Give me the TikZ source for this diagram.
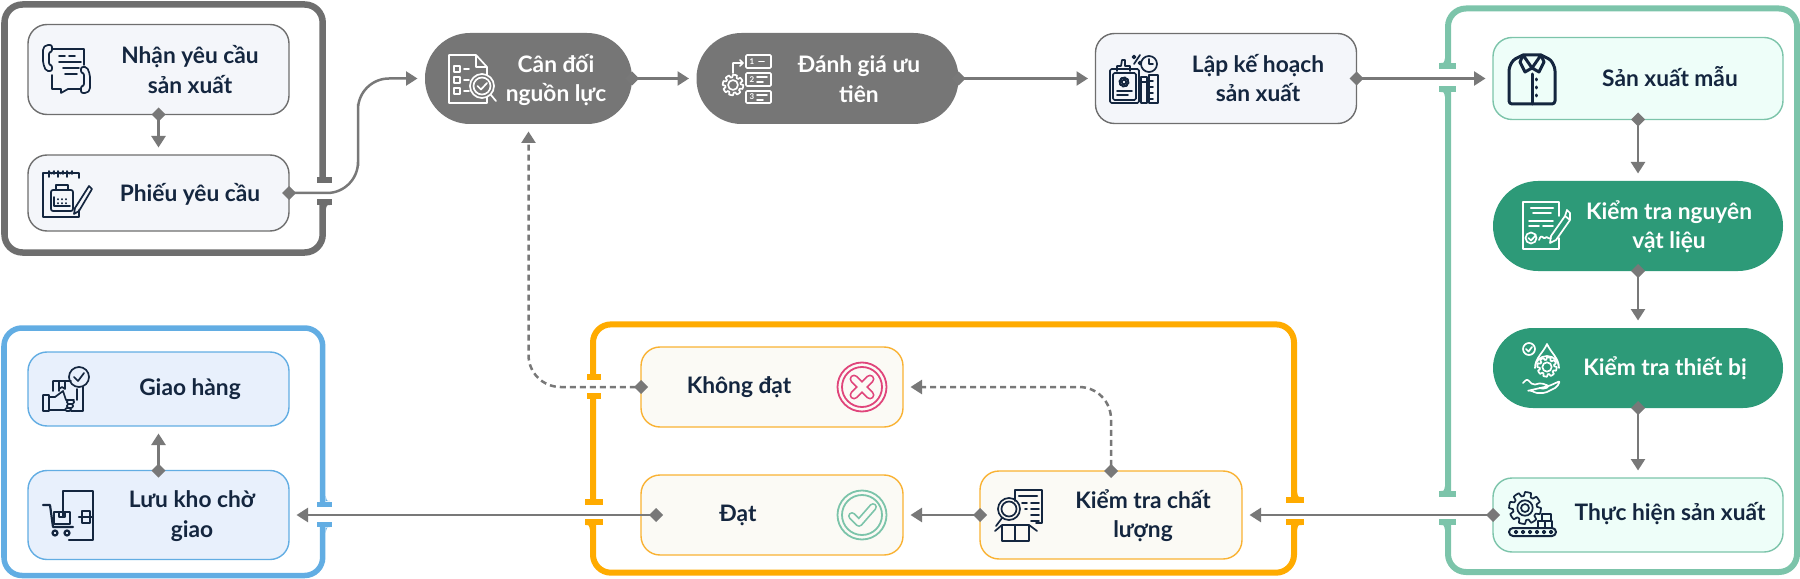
\documentclass[tikz,border=0pt]{standalone}
\usepackage{fontspec}
\setmainfont{Lato}
\usetikzlibrary{arrows.meta}
\definecolor{inkc}{HTML}{14263F}
\definecolor{flowc}{HTML}{787878}
\definecolor{greyf}{HTML}{F4F6FA}
\definecolor{greyl}{HTML}{6E6E6E}
\definecolor{pillg}{HTML}{767676}
\definecolor{mintf}{HTML}{EEFEF9}
\definecolor{mintl}{HTML}{7CC4AA}
\definecolor{pillm}{HTML}{2D9A78}
\definecolor{ambf}{HTML}{FBFAF5}
\definecolor{ambl}{HTML}{F9B233}
\definecolor{ambg}{HTML}{FFAB00}
\definecolor{bluef}{HTML}{E8F0FC}
\definecolor{bluel}{HTML}{62ADE3}
\definecolor{pinkc}{HTML}{E0457B}

\begin{document}
\begin{tikzpicture}[x=1bp,y=-1bp,
  card/.style={rectangle,inner sep=0bp,outer sep=0bp,rounded corners=19bp,line width=1.4bp},
  pill/.style={card,rounded corners=45bp,draw=none},
  word/.style={align=center,inner sep=0bp,text=inkc,font=\fontsize{22.8}{29.5}\selectfont\bfseries},
  flow/.style={draw=flowc,line width=2.5bp,{Kite[length=14bp,width=14bp,inset=7bp]}-{Triangle[length=11.5bp,width=14bp]},
    shorten <=-7bp,shorten >=7.5bp},
  back/.style={flow,dash pattern=on 6bp off 4bp,rounded corners=32bp},
  frame/.style={line width=6bp,rounded corners=18bp},
  icon/.style={line width=1.7bp,line join=round,line cap=round}]
\useasboundingbox (0,0) rectangle (1800,579);
% one gear drawn as a wave in polar form
\newcommand{\cog}[3]{\draw[shift={(#1,#2)}] plot[domain=0:360,samples=65]
  (\x:{#3+(sin(8*\x)>=0?1:-1)*#3*0.14}) -- cycle;
  \draw (#1,#2) circle ({#3*0.55});}
% fillet where a frame meets its end bar: colour, x, y, side, up or down
\newcommand{\flare}[5]{\fill[#1] ({#2+#4*3},{#3+#5*3}) -- ({#2+#4*7.5},{#3+#5*3})
  .. controls ({#2+#4*4},{#3+#5*3}) .. ({#2+#4*3},{#3+#5*8}) -- cycle;}
% icons, all in a 48 by 48 square
\newcommand{\iconphone}{
  \draw[rounded corners=2bp] (9,0)--(3,0)--(0,3)--(0,18)--(3,26)--(9,26)--(9,20)--(6,20)--(6,7)--(9,7)--cycle;
  \draw[rounded corners=2bp] (38,48)--(44,48)--(47,45)--(47,30)--(44,22)--(38,22)--(38,28)--(41,28)--(41,41)--(38,41)--cycle;
  \draw (10,4)--(41,4)--(41,20) (9,30)--(9,44)--(18,44)--(18,48)--(25,44)--(37,44);
  \draw (16,11)--(22,11) (26,11)--(32,11) (16,17)--(38,17) (20,23)--(36,23) (22,29)--(34,29);}
\newcommand{\iconnote}{
  \draw (36,8)--(36,3)--(0,3)--(0,47)--(36,47)--(36,40);
  \foreach \b in {6,15,24}{\draw (\b,7)--(\b,1) arc (180:0:2.5) -- ++(0,3);}
  \draw[rounded corners=2bp] (8,20) rectangle (30,41);
  \draw (13,20)--(13,15)--(25,15)--(25,20) (11,27)--(11,36)--(27,36);
  \foreach \b in {15,19,23}{\draw (\b,29)--(\b,29.5) (\b,33)--(\b,33.5);}
  \draw (46,16)--(49,19)--(36,41)--(31,44)--(32,38)--cycle;}
\newcommand{\iconcheck}{
  \draw (38,20)--(38,12)--(27,0)--(0,0)--(0,48)--(38,48)--(38,42) (27,0)--(27,12)--(38,12);
  \foreach \b in {14,25,36}{\draw (5,\b-3) rectangle (11,\b+3); \draw (15,\b)--(20,\b);}
  \draw (33,31) circle (12) (33,31) circle (8.5) (28.5,31)--(32,34.5)--(38,28) (42,40)--(47,46);}
\newcommand{\iconrank}{
  \cog{10}{30}{9}
  \draw (10,18)--(10,8)--(20,8) (17,5)--(20,8)--(17,11);
  \draw[rounded corners=1bp] (23,0) rectangle (48,13) (23,18) rectangle (48,31) (23,36) rectangle (48,48);
  \node[inner sep=0bp,font=\fontsize{8}{8}\selectfont\bfseries,text=white] (rk1) at (29,6.5) {1};
  \node[inner sep=0bp,font=\fontsize{8}{8}\selectfont\bfseries,text=white] (rk2) at (29,24.5) {2};
  \node[inner sep=0bp,font=\fontsize{8}{8}\selectfont\bfseries,text=white] (rk3) at (29,42) {3};
  \draw (36,6.5)--(41,6.5) (34,22)--(44,22) (34,27)--(40,27) (34,40)--(44,40) (34,45)--(40,45);}
\newcommand{\iconplan}{
  \draw[rounded corners=1.5bp] (0,14) rectangle (29,48) (3,18) rectangle (26,45);
  \draw (7,16)--(7,11)--(11,11)--(12,5)--(15,5)--(15,11)--(20,11)--(20,16);
  \draw (24,9)--(30,0) (24,2) circle (1.5) (30,8) circle (1.5) (39,9) circle (8) (39,4)--(39,9)--(43,9);
  \cog{14}{27}{4}
  \draw (7,36)--(22,36) (7,40)--(18,40);
  \draw (31,48)--(31,22)--(37,22)--(37,48)--(34,48)--cycle (31,27)--(37,27);
  \draw (39,20) rectangle (48,48) (39,26)--(43,26) (39,32)--(43,32) (39,38)--(43,38) (39,44)--(43,44);}
\newcommand{\iconshirt}{
  \begin{scope}[line width=3bp]
  \draw[rounded corners=3bp] (14,3)--(4,8)--(0,16)--(0,52)--(46,52)--(46,16)--(42,8)--(32,3);
  \draw (14,3)--(32,3)--(23,16)--(14,3) (14,3)--(11,10)--(16,20)--(23,16)--(30,20)--(35,10)--(32,3);
  \draw (23,22)--(23,52);
  \foreach \b in {27,35,43}{\draw[line width=3bp] (27,\b)--(27,\b+1);}
  \end{scope}}
\newcommand{\iconpaper}{
  \draw (36,14)--(36,0)--(0,0)--(0,47)--(36,47)--(36,36);
  \draw[line width=2.5bp] (8,6)--(30,6);
  \draw (10,11)--(28,11) (6,19)--(30,19) (6,24)--(16,24) (20,24)--(30,24);
  \draw (8,36) circle (5.5) (5.5,36)--(8,38.5)--(13,33);
  \draw (16,38) .. controls (19,30) and (20,38) .. (22,36) .. controls (24,33) and (25,38) .. (28,36);
  \draw (28,34)--(42,14)--(47,18)--(33,38)--(27,41)--cycle (42,14)--(44,8)--(47,11)--(47,18);}
\newcommand{\iconcare}{
  \draw (6,6) circle (6) (3,6)--(5.5,8.5)--(9,4);
  \draw (24,1) .. controls (20,10) and (12,15) .. (12,25) arc (180:360:12) .. controls (36,15) and (28,10) .. (24,1) -- cycle;
  \cog{24}{24}{8.5}
  \draw[rounded corners=2bp] (0,40)--(4,36)--(10,42)--(18,40)--(26,43)--(22,46)--(16,45) (26,43)--(37,38)--(34,44)--(22,50)--(12,50)--(8,47)--(4,48)--cycle;}
\newcommand{\iconmake}{
  \cog{16}{17}{14}
  \draw (16,17) circle (4);
  \draw (33,23) rectangle (42,30) (29,30) rectangle (36,37) (36,30) rectangle (43,37);
  \draw[rounded corners=4bp,line width=2bp] (0,37) rectangle (47,45);
  \foreach \b in {7,14,21,28,35,42}{\draw (\b,41) circle (1.4);}}
\newcommand{\iconqc}{
  \draw (20,12)--(20,1)--(47,1)--(47,34)--(41,34);
  \draw[line width=2.5bp] (24,7)--(42,7);
  \foreach \b in {14,20,26,32}{\draw (36,\b)--(44,\b);}
  \draw (27,14)--(32,14) (30,20)--(32,20);
  \draw (14,20) circle (11) (14,20) circle (7.5) (7,29)--(1,37);
  \draw (7,36)--(7,52)--(34,52)--(34,36) (20,36)--(20,52) (0,42)--(7,36)--(34,36)--(42,42);}
\newcommand{\icondeliver}{
  \draw (36,10) circle (10) (31,10)--(35,14)--(41,6);
  \draw (10,24)--(10,14)--(28,14) (16,14)--(16,24) (22,14)--(22,22)--(19,20)--(16,22);
  \draw (0,28) rectangle (6,44) (6,30)--(12,30)--(20,24)--(23,33)--(31,33);
  \draw[rounded corners=1.5bp] (24,33) rectangle (31,37) (24,37) rectangle (30,41) (22,41) rectangle (28,44);
  \draw (6,43)--(22,43) (28,44)--(40,44)--(40,20) (34,22)--(34,33);}
\newcommand{\iconstore}{
  \draw[line width=2.2bp] (20,26)--(20,0)--(50,0)--(50,49)--(26,49);
  \draw[line width=2.2bp] (0,14)--(7,14)--(10,36)--(30,36);
  \draw[line width=2.2bp] (11,21) rectangle (27,33) (16,21)--(16,26)--(22,26)--(22,21);
  \draw[line width=2.2bp] (12,42) circle (2.5) (24,42) circle (2.5);
  \draw[line width=2.2bp] (36,26)--(49,26) (39,20) rectangle (47,32);}
% ring used for the two result marks
\newcommand{\resultring}[2]{
  \draw[#1,line width=1.8bp] (#2) circle (24.5);
  \draw[#1,line width=1.8bp] (#2) circle (20);}

% ---------- frames ----------
\draw[frame,draw=greyl,line width=6.5bp] (322.7,180)--(322.7,4.5)--(4.5,4.5)--(4.5,252.5)--(322.7,252.5)--(322.7,202);
\draw[greyl,line width=6bp] (317,180)--(332,180) (317,202)--(332,202);
\flare{greyl}{322.7}{202}{1}{1}
\draw[frame,draw=bluel,line width=5.5bp] (322.7,504)--(322.7,328)--(4,328)--(4,575.5)--(322.7,575.5)--(322.7,524.5);
\draw[bluel,line width=5bp] (317,504)--(332,504) (317,524.5)--(332,524.5);
\flare{bluel}{322.7}{504}{1}{-1}
\flare{bluel}{322.7}{524.5}{1}{1}
\draw[frame,draw=ambg] (1294,500)--(1294,324.4)--(593,324.4)--(593,377) (593,396)--(593,502) (593,522)--(593,572.7)--(1294,572.7)--(1294,522);
\draw[ambg,line width=6bp] (587,377)--(601,377) (587,396)--(601,396) (585,502)--(603,502) (585,522)--(603,522)
  (1286,500)--(1304,500) (1286,522)--(1304,522);
\flare{ambg}{593}{522}{-1}{1}
\flare{ambg}{1294}{500}{1}{-1}
\flare{ambg}{1294}{522}{1}{1}
\draw[frame,draw=mintl] (1448,66)--(1448,8.5)--(1797,8.5)--(1797,572)--(1448,572)--(1448,522) (1448,494)--(1448,89);
\draw[mintl,line width=6bp] (1439,66)--(1456,66) (1439,89)--(1456,89) (1439,494)--(1456,494) (1439,522)--(1456,522);
\flare{mintl}{1448}{66}{-1}{-1}
\flare{mintl}{1448}{89}{-1}{1}
\flare{mintl}{1448}{494}{-1}{-1}
\flare{mintl}{1448}{522}{-1}{1}

% ---------- boxes ----------
\node[card,draw=greyl,fill=greyf,minimum width=261bp,minimum height=90bp] (nhan) at (158.5,69.5) {};
\node[card,draw=greyl,fill=greyf,minimum width=261bp,minimum height=76bp] (phieu) at (158.5,193) {};
\node[pill,fill=pillg,minimum width=207bp,minimum height=91bp] (can) at (528.5,78.5) {};
\node[pill,fill=pillg,minimum width=262bp,minimum height=91bp] (danhgia) at (827.5,78.5) {};
\node[card,draw=greyl,fill=greyf,minimum width=261bp,minimum height=90bp] (lap) at (1226,78.5) {};
\node[card,draw=mintl,fill=mintf,minimum width=290bp,minimum height=82bp] (mau) at (1638,78.5) {};
\node[pill,fill=pillm,minimum width=290bp,minimum height=90bp] (nvl) at (1638,226) {};
\node[pill,fill=pillm,rounded corners=40bp,minimum width=290bp,minimum height=80bp] (thietbi) at (1638,368) {};
\node[card,draw=mintl,fill=mintf,minimum width=290bp,minimum height=74bp] (thuchien) at (1638,515) {};
\node[card,draw=ambl,fill=ambf,minimum width=262bp,minimum height=88bp] (chatluong) at (1111,515) {};
\node[card,draw=ambl,fill=ambf,minimum width=262bp,minimum height=80bp] (khongdat) at (772,387) {};
\node[card,draw=ambl,fill=ambf,minimum width=262bp,minimum height=80bp] (dat) at (772,515) {};
\node[card,draw=bluel,fill=bluef,minimum width=261bp,minimum height=74bp] (giao) at (158.5,389) {};
\node[card,draw=bluel,fill=bluef,minimum width=261bp,minimum height=89bp] (luukho) at (158.5,515) {};

% ---------- connectors ----------
\coordinate (bendcan) at (358,135);
\draw[flow] (nhan.south) -- (phieu.north);
\draw[flow,rounded corners=31bp] (phieu.east) -| (bendcan) |- (can.west);
\draw[flow] (can.east) -- (danhgia.west);
\draw[flow] (danhgia.east) -- (lap.west);
\draw[flow] (lap.east) -- (mau.west);
\draw[flow] (mau.south) -- (nvl.north);
\draw[flow] (nvl.south) -- (thietbi.north);
\draw[flow] (thietbi.south) -- (thuchien.north);
\draw[flow] (thuchien.west) -- (chatluong.east);
\draw[flow] (chatluong.west) -- (dat.east);
\draw[flow] ([xshift=15bp]dat.west) -- (luukho.east);
\draw[flow] (luukho.north) -- (giao.south);
\draw[back] (chatluong.north) |- (khongdat.east);
\draw[back] (khongdat.west) -| (can.south);

% ---------- texts ----------
\node[word] (nhanT) at (190,69.5) {Nhận yêu cầu\\sản xuất};
\node[word] (phieuT) at (190,194) {Phiếu yêu cầu};
\node[word,text=white] (canT) at (556,80) {Cân đối\\nguồn lực};
\node[word,text=white] (danhgiaT) at (859,79) {Đánh giá ưu\\tiên};
\node[word] (lapT) at (1258,78) {Lập kế hoạch\\sản xuất};
\node[word] (mauT) at (1670,77) {Sản xuất mẫu};
\node[word,text=white] (nvlT) at (1669,227) {Kiểm tra nguyên\\vật liệu};
\node[word,text=white] (thietbiT) at (1665,368) {Kiểm tra thiết bị};
\node[word] (thuchienT) at (1670,514) {Thực hiện sản xuất};
\node[word] (chatluongT) at (1143,515.5) {Kiểm tra chất\\lượng};
\node[word] (khongdatT) at (739,387) {Không đạt};
\node[word] (datT) at (738,515) {Đạt};
\node[word] (giaoT) at (190,389) {Giao hàng};
\node[word] (luukhoT) at (192,516) {Lưu kho chờ\\giao};

% ---------- icons ----------
\begin{scope}[icon,color=inkc,shift={(43,45)}] \iconphone \end{scope}
\begin{scope}[icon,color=inkc,shift={(43,170)}] \iconnote \end{scope}
\begin{scope}[icon,color=white,shift={(449,55)}] \iconcheck \end{scope}
\begin{scope}[icon,color=white,shift={(723,55)}] \iconrank \end{scope}
\begin{scope}[icon,color=inkc,shift={(1110,55)}] \iconplan \end{scope}
\begin{scope}[icon,color=inkc,shift={(1509,52)}] \iconshirt \end{scope}
\begin{scope}[icon,color=white,shift={(1523,202)}] \iconpaper \end{scope}
\begin{scope}[icon,color=white,shift={(1523,343)}] \iconcare \end{scope}
\begin{scope}[icon,color=inkc,shift={(1509,491)}] \iconmake \end{scope}
\begin{scope}[icon,color=inkc,shift={(995,489)}] \iconqc \end{scope}
\begin{scope}[icon,color=inkc,shift={(43,367)}] \icondeliver \end{scope}
\begin{scope}[icon,color=inkc,shift={(43,491)}] \iconstore \end{scope}
% result marks
\coordinate (nomark) at (862,387);
\coordinate (okmark) at (862,515);
\resultring{pinkc}{nomark}
\draw[pinkc,line width=9bp,line cap=round] ([shift={(-8,-8)}]nomark) -- ([shift={(8,8)}]nomark) ([shift={(-8,8)}]nomark) -- ([shift={(8,-8)}]nomark);
\draw[ambf,line width=5.5bp,line cap=round] ([shift={(-8,-8)}]nomark) -- ([shift={(8,8)}]nomark) ([shift={(-8,8)}]nomark) -- ([shift={(8,-8)}]nomark);
\resultring{mintl}{okmark}
\draw[mintl,line width=8bp,line cap=round,line join=round] ([shift={(-10,1)}]okmark) -- ([shift={(-3,8)}]okmark) -- ([shift={(11,-8)}]okmark);
\draw[ambf,line width=4.5bp,line cap=round,line join=round] ([shift={(-10,1)}]okmark) -- ([shift={(-3,8)}]okmark) -- ([shift={(11,-8)}]okmark);
\end{tikzpicture}
\end{document}
